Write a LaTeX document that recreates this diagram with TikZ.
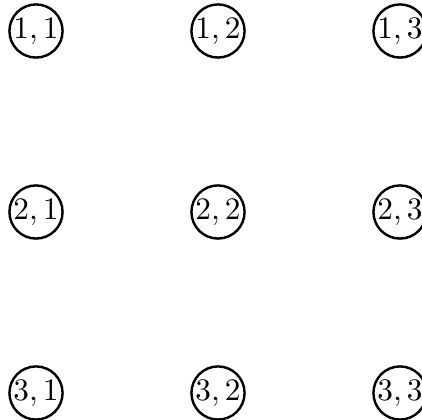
\documentclass[tikz,border=0pt]{standalone}
\begin{document}
\begin{tikzpicture}[x=0.35pt,y=-0.35pt,
  gridnode/.style={circle,draw,line width=0.85pt,inner sep=0pt,minimum size=18.6pt,font=\fontsize{11}{13}\selectfont}]
\useasboundingbox (0,0) rectangle (422,420);
\clip (0,0) rectangle (422,420);
\node[gridnode] (n11) at (36,31) {$1,1$};
\node[gridnode] (n12) at (218,31) {$1,2$};
\node[gridnode] (n13) at (400,31) {$1,3$};
\node[gridnode] (n21) at (36,212) {$2,1$};
\node[gridnode] (n22) at (218,212) {$2,2$};
\node[gridnode] (n23) at (400,212) {$2,3$};
\node[gridnode] (n31) at (36,393) {$3,1$};
\node[gridnode] (n32) at (218,393) {$3,2$};
\node[gridnode] (n33) at (400,393) {$3,3$};
\end{tikzpicture}
\end{document}
